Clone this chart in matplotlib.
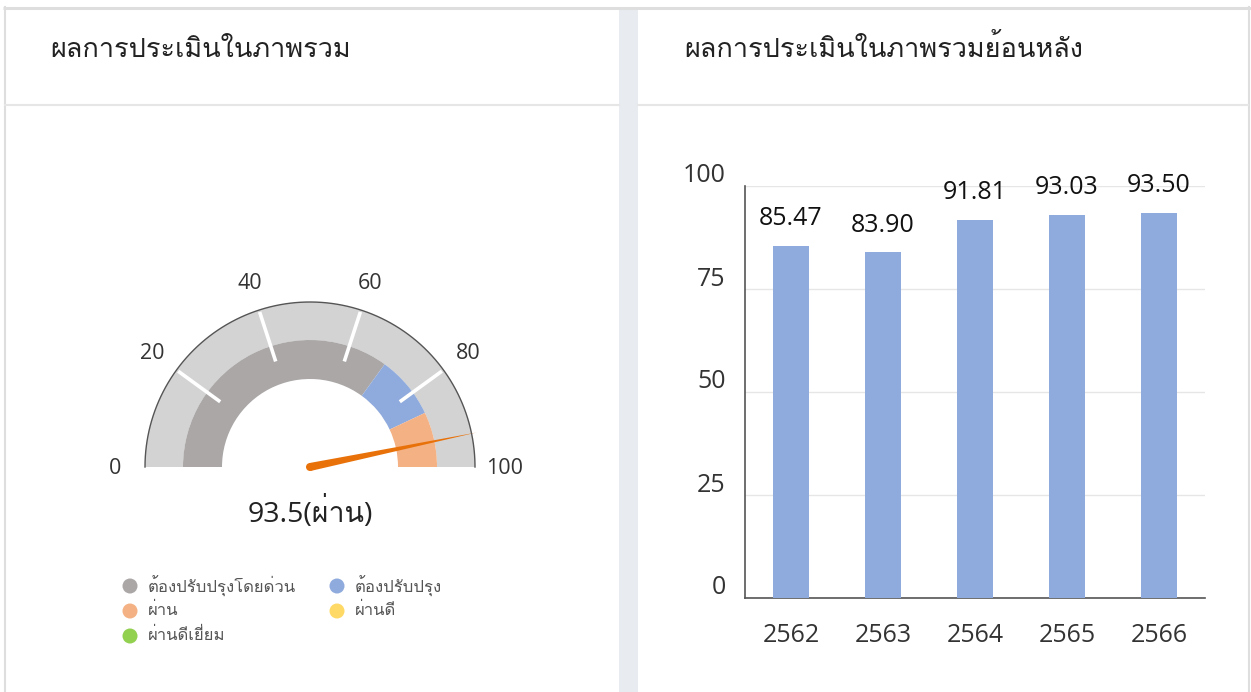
import numpy as np
import matplotlib
matplotlib.use("Agg")
import matplotlib.pyplot as plt
from matplotlib.patches import Wedge, Rectangle, Polygon, Circle
from matplotlib import font_manager as fm
from matplotlib.ft2font import FT2Font
import matplotlib.transforms as mtransforms

# ---------------- data ----------------
title_left = "ผลการประเมินในภาพรวม"
title_right = "ผลการประเมินในภาพรวมย้อนหลัง"
gauge_value = 93.5
gauge_label = "93.5(ผ่าน)"
gauge_ticks = [0, 20, 40, 60, 80, 100]
band_edges = [0, 70, 86, 100]
band_colors = ["#aba7a7", "#8faadc", "#f4b183"]
legend_labels = ["ต้องปรับปรุงโดยด่วน", "ต้องปรับปรุง", "ผ่าน", "ผ่านดี", "ผ่านดีเยี่ยม"]
legend_colors = ["#aba7a7", "#8faadc", "#f4b183", "#ffd966", "#92d050"]
years = ["2562", "2563", "2564", "2565", "2566"]
scores = [85.47, 83.90, 91.81, 93.03, 93.50]
y_ticks = [0, 25, 50, 75, 100]

# ---------------- fonts ----------------
def thai_fonts():
    names = []
    seen = set()
    for f in fm.fontManager.ttflist:
        if f.name in seen:
            continue
        try:
            cm = FT2Font(f.fname).get_charmap()
            if 0x0E1C in cm and 0x0E48 in cm:
                names.append(f.name)
                seen.add(f.name)
        except Exception:
            pass
    return names

thai = thai_fonts()
families = ["Open Sans"] + thai[:1] + ["Noto Sans", "DejaVu Sans"]
plt.rcParams["font.family"] = families

W, H = 1251, 692
fig = plt.figure(figsize=(W / 100, H / 100), dpi=100)
fig.patch.set_facecolor("white")

# background axes in pixel coordinates (y measured from top)
bg = fig.add_axes([0, 0, 1, 1])
bg.set_xlim(0, W)
bg.set_ylim(H, 0)
bg.axis("off")

border = "#dedede"
# panel borders
bg.plot([3, W], [7.5, 7.5], color=border, lw=2.2, solid_capstyle="butt")
bg.plot([4.5, 4.5], [7, H], color=border, lw=1.5)
bg.plot([1248.5, 1248.5], [7, H], color=border, lw=1.5)
bg.add_patch(Rectangle((619, 8), 19, H, facecolor="#e8ecf1", edgecolor="none"))
bg.plot([5, 619], [104.5, 104.5], color="#e6e6e6", lw=1.5)
bg.plot([638, 1248], [104.5, 104.5], color="#e6e6e6", lw=1.5)

bg.text(50, 50, title_left, fontsize=19.5, color="#222222", va="center", ha="left")
bg.text(684, 50, title_right, fontsize=19.5, color="#222222", va="center", ha="left")

# ---------------- gauge ----------------
cx, cy = 310, 467
r_out, r_mid, r_in = 165, 127, 88

def ang(v):
    return 180 - 1.8 * v

# y axis inverted -> wedge angles mirrored
def wedge(r, width, v0, v1, color):
    a0, a1 = ang(v1), ang(v0)
    bg.add_patch(Wedge((cx, cy), r, -a1, -a0, width=width, facecolor=color,
                       edgecolor="none"))

wedge(r_out, r_out - r_mid, 0, 100, "#d3d3d3")
for v0, v1, c in zip(band_edges[:-1], band_edges[1:], band_colors):
    wedge(r_mid, r_mid - r_in, v0, v1, c)

# outer arc outline
th = np.linspace(np.pi, 0, 200)
bg.plot(cx + r_out * np.cos(th), cy - r_out * np.sin(th), color="#555555", lw=1)

# tick marks
for v in gauge_ticks[1:-1]:
    a = np.deg2rad(ang(v))
    bg.plot([cx + 111 * np.cos(a), cx + 163 * np.cos(a)],
            [cy - 111 * np.sin(a), cy - 163 * np.sin(a)],
            color="white", lw=2.6, solid_capstyle="butt")

# tick labels
for v in gauge_ticks:
    a = np.deg2rad(ang(v))
    r = 195
    bg.text(cx + r * np.cos(a), cy + 1.5 - r * np.sin(a), str(v), fontsize=15.5,
            color="#333333", ha="center", va="center")

# needle
a = np.deg2rad(ang(gauge_value))
L = 170
hw = 4.0
tip = (cx + L * np.cos(a), cy - L * np.sin(a))
px, py = -np.sin(a), -np.cos(a)
p1 = (cx + hw * px, cy + hw * py)
p2 = (cx - hw * px, cy - hw * py)
bg.add_patch(Polygon([p1, tip, p2], closed=True, facecolor="#e8710a", edgecolor="none"))
bg.add_patch(Circle((cx, cy), hw, facecolor="#e8710a", edgecolor="none"))

bg.text(cx, 512, gauge_label, fontsize=20.5, color="#222222", ha="center", va="center")

# legend
leg_pos = [(130, 586), (337, 586), (130, 611), (337, 611), (130, 636)]
for (lx, ly), lab, col in zip(leg_pos, legend_labels, legend_colors):
    bg.add_patch(Circle((lx, ly), 7.5, facecolor=col, edgecolor="none"))
    bg.text(lx + 18, ly, lab, fontsize=12, color="#555555", ha="left", va="center")

# ---------------- bar chart ----------------
ax = fig.add_axes([745 / W, 1 - 598 / H, 460 / W, (598 - 186) / H])
x = np.arange(len(years))
ax.bar(x, scores, width=0.39, color="#8faadc", zorder=3)
ax.set_xlim(-0.5, len(years) - 0.5)
ax.set_ylim(0, 100)
ax.set_yticks(y_ticks)
ax.set_yticklabels([str(t) for t in y_ticks])
ax.set_xticks(x)
ax.set_xticklabels(years)
ax.tick_params(axis="y", length=0, pad=14, labelsize=18, labelcolor="#333333")
ax.tick_params(axis="x", length=0, pad=18, labelsize=18, labelcolor="#333333")
off = mtransforms.ScaledTranslation(0, 13 / 100, fig.dpi_scale_trans)
for lab in ax.get_yticklabels():
    lab.set_transform(lab.get_transform() + off)
ax.grid(axis="y", color="#e6e6e6", lw=1, zorder=0)
ax.set_axisbelow(True)
for s in ["top", "right"]:
    ax.spines[s].set_visible(False)
for s in ["left", "bottom"]:
    ax.spines[s].set_color("#555555")
    ax.spines[s].set_linewidth(1.2)
ax.set_facecolor("none")

for xi, v in zip(x, scores):
    ax.annotate(f"{v:.2f}", (xi, v), xytext=(0, 27 * 0.72), textcoords="offset points",
                ha="center", va="center", fontsize=18, color="#111111", annotation_clip=False)

fig.savefig("out.png", dpi=100, facecolor="white")
